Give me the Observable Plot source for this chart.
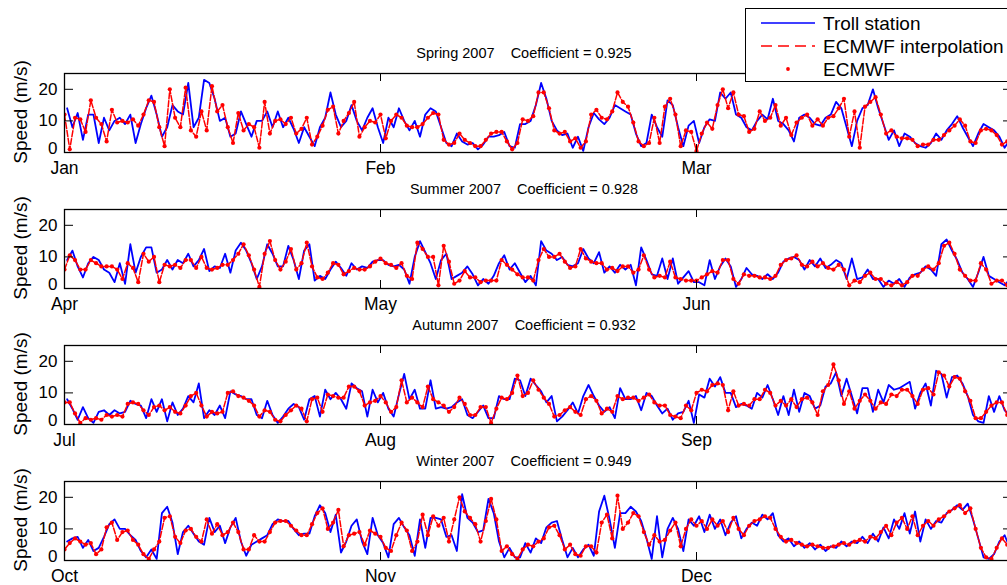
<!DOCTYPE html>
<html><head><meta charset="utf-8">
<script src="https://cdn.jsdelivr.net/npm/d3@7"></script>
<script src="https://cdn.jsdelivr.net/npm/@observablehq/plot@0.6"></script>
<style>
html,body{margin:0;padding:0;width:1007px;height:585px;overflow:hidden;background:#fff;font-family:"Liberation Sans",Arial,Helvetica,sans-serif;}
#root{position:relative;width:1007px;height:585px;overflow:hidden;}
.panel{position:absolute;left:0;width:1007px;}
.title{position:absolute;font-size:14.5px;line-height:18px;white-space:pre;transform:translateX(-50%);color:#000;}
.ylab{position:absolute;font-size:19px;line-height:20px;white-space:nowrap;transform:translate(-50%,-50%) rotate(-90deg);color:#000;}
#legend{position:absolute;left:745px;top:8px;width:275px;height:72px;border:1px solid #000;background:#fff;z-index:10;}
#legend svg{position:absolute;left:0;top:0;}
</style>
</head><body><div id="root"></div>
<script>
// ---- data -----------------------------------------------------------
const seasons = ["Spring 2007","Summer 2007","Autumn 2007","Winter 2007"];
const coefficients = ["0.925","0.928","0.932","0.949"];
const monthNames = [["Jan","Feb","Mar"],["Apr","May","Jun"],["Jul","Aug","Sep"],["Oct","Nov","Dec"]];
const yTicks = [0,10,20];
const legendNames = ["Troll station","ECMWF interpolation","ECMWF"];

// ECMWF values every 12 h (m/s)
const springEcmwf = [12,1,11,10.5,6.5,16.5,11,9,3.5,13.5, 9.5,10,9.5,10.5,8.5,12,16.5,16,8,2,
 20,11,8,20.5,7,5,13,7,21,13, 15,8,3,12.5,7,9,8,1.5,16,6, 10,10.5,9,11,6,7.5,11,2.5,5,8.5,
 13.5,14.5,6,10,12.5,16,5,8,10,9.5, 12,4.5,10,12,11,8.5,8,8,9,11, 12.5,12,4,2.5,3,6,4,3,2,2,
 4,6,6.5,6.5,3.5,1,3,10.5,10,11.5, 19,19,14,7,6,6.5,3.5,4.5,1.5,3.5, 12,13.5,11,10.5,13,19,16,14.5,9.5,3.5,
 2,3,11,3,14.5,17,12,2,7,6.5, 0.5,6,9.5,7.5,15,20,14,19,12,11.5, 6.5,7.5,13,10,11,15,8.5,11,5.5,9.5,
 11,12,8.5,10.5,8.5,11,11.5,14,17,5, 13,1.5,14.5,16,17.5,12,6,7,5,4.5, 4.5,4,2,2.5,2.5,4,4,5.5,7,8.5,
 10.5,8.5,3.5,3,7,7.5,7,5.5,2.5,3.5];
const summerEcmwf = [6,10.5,9,6,6,9,8,7,7,7, 6,3,8,6.5,2,11,8.5,10,2,7.5, 7,7.5,6.5,9,9,6.5,10,6.5,6,6.5,
 7.5,7.5,9,11,14,10.5,6,0.5,11,15, 9,6,8.5,12.5,6,8,14.5,7,3.5,3, 5,8,7.5,4.5,5.5,6.5,6,6,7,8.5,
 9.5,8,7.5,6.5,8,4,3,14.5,12.5,10, 10,1,13.5,8.5,1.5,2.5,5.5,3.5,3.5,2, 2.5,2.5,2.5,9,7.5,6,4.5,3.5,3.5,2.5,
 9,12.5,10,10,11,8.5,6.5,7,12.5,9.5, 8.5,8,8,6,6.5,5.5,7,7,5,6, 10.5,6,3.5,4,3.5,8.5,3.5,3,2.5,2.5,
 2.5,3.5,4.5,5.5,5,9,9,3,1.5,4.5, 4,4,3.5,3.5,3,4,7.5,9,9.5,10.5, 7.5,7,8.5,7,8,6.5,6,7.5,6,1,
 2.5,2,4,5,3,3,1.5,1,2,1, 2,4,4,6,7,6,8,13.5,14.5,11, 6,4,2.5,2.5,8,6,1.5,2.5,2.5,1];
const autumnEcmwf = [7,7,3.5,0.5,2,1.5,2,1.5,3,2.5, 3,2.5,6.5,7,6.5,4.5,3,5.5,6,4.5, 5.5,4,3.5,6,9,10,6,2.5,4,3.5,
 4,10,10.5,9,8.5,7.5,6,2.5,4.5,4, 1.5,1,3,4.5,6,5,1,8,8.5,4, 9.5,9,8.5,8.5,12,12,10.5,6,7,7.5,
 9,7,4,5.5,14,7,8.5,7,5.5,12, 8,7,6,4,5.5,8.5,6.5,3,3,5.5, 5.5,0.5,5,8.5,8,10,15.5,9,10,14,
 11,8.5,6.5,2.5,3,4.5,5.5,4,3,8, 9,7.5,3.5,5,4,9,8,8.5,8.5,7.5, 8.5,9.5,7,6,6,3,2.5,2,6,4.5,
 10,11,10.5,12.5,13,12.5,4.5,10.5,6,6.5, 6,8,8,11,10,6,7.5,6,8,5.5, 8,8.5,7,3,10.5,12.5,19,14,6.5,10.5,
 5,7.5,9.5,7.5,5,7,6.5,9.5,9,11, 11,9,6.5,11,11.5,9.5,16.5,15.5,12,15, 14.5,10.5,7.5,2,2,4,6,7,7,3];
const winterEcmwf = [3.5,5.5,7,6,5,5.5,2,3.5,10.5,12, 6.5,9,9.5,6.5,5,2,0.5,3.5,6,13.5, 14,7.5,5.5,9.5,10,7.5,6,13,8.5,11.5,
 8,9,12,9,3.5,3.5,8,6,6,9, 12,12.5,12.5,11,9.5,8,8,11.5,15,16.5, 10,12,16,4.5,8,8.5,9,5,9.5,8.5,
 7.5,4,3,8,12,9.5,3,6,14.5,8, 14,11,13.5,6,13,20,15.5,13.5,11.5,6, 12.5,19.5,13,3,4.5,2,0.5,3.5,5,4.5,
 6,7,10.5,11,8,3.5,5,2,1.5,4.5, 4.5,2.5,12,14.5,7,20.5,10,12,15,14, 9,5,8,6,6.5,9.5,12,4.5,10,13,
 11,12.5,10,13,11,12.5,9,13.5,10,8, 11,12.5,13,14,13.5,10,7.5,6,6.5,5.5, 5,4.5,5,4.5,4,4,4.5,5,5.5,5,
 6,6.5,6,7.5,7,9,11,8,12,13.5, 10,14,8,11,12.5,11,13,14,15.5,16.5, 17.5,15,16.5,10,4,1,0.5,4,7,5];

// Troll station values, 6 h after each ECMWF value (m/s)
const springTroll = [14,8,12.5,4,12,12,3,11,7,10, 11,9,12,3,9,14,18,12,5,8, 15,13,12,22,8,11,23,22,17,10,
 11,5,6,13,9,5,10,10,13,8, 13,8,11,7.5,3,8,5,2,8,11, 19,12,8,10,15,10,7,11,14,8,
 3,11,8,14,10,7,10,5,12,14, 13,8,3,2,6,3.5,2.5,3,1,2.5, 5,5,5.5,6.5,2,1.5,9,9,10,15,
 22,17,10,7,5.5,6,1.5,5,0.5,8, 12.5,10.5,9,11,15,14,13,12,6,2, 3,12,8,5,16.5,15,8,2,8.5,10,
 3,8,10.5,10,19,17,19,12,11,8, 7,10,12,10.5,17,10,9,7,3.5,11, 12,11,9,8.5,11,12,16,14,8,2,
 10,14,15,20,14,9,4,7,2,6, 5,3,2,1.5,3,6,4,7,9,11.5, 8,5,2,6,9,8,7,5,1.5,4];
const summerTroll = [9,12,7,3.5,8,10,9,6,5,2, 8,1.5,14,5,10,13,13,5,6,9, 6,9,8,11,7,9,12.5,5.5,7,6.5,
 11,5,12,14.5,12,8,3,7,14,11, 7,7,13.5,9,3,12,14,2.5,4,3, 6,8.5,6.5,4,8,6,7,6.5,8.5,9,
 9,7.5,7,7.5,6,1.5,10,15,11.5,8, 3,9,11,3,4,5,7,4.5,1,3, 1.5,4,8,10.5,6,8,5,2,4,1,
 15,12,11,9,10,7.5,7,8,12.5,9.5, 8,11.5,5,7,5,7.5,6,7.5,1,13, 9,4.5,4,9.5,3,9.5,1.5,3.5,5.5,2,
 2,1,9,3,7,9.5,7,0.5,3,6.5, 4.5,4,3,4.5,3,5,8.5,9.5,10,9, 6,9,7,9.5,6.5,7.5,9,8,3,9.5,
 3,3.5,6,3,3,0.5,2.5,1.5,3,0.5, 3.5,4.5,5,7,6,4,14,15.5,12,9, 5,3,0.5,5,10,4,3,2,1,3];
const autumnTroll = [8,5,1.5,5.5,2,0.5,4,4.5,3,4.5, 3.5,4,7.5,6.5,6,2,8,4,8,1, 7,3,5,9,7,13,2,4.5,3,6,
 2,10.5,9.5,9,8,8,3,2,7.5,3, 0.5,2.5,5,6.5,5.5,1.5,8,9,2.5,11, 8,10,8,5,13,11.5,10.5,2.5,11,7,
 10,5,2.5,9.5,16,8,11,5,5,14, 5,5.5,5,5.5,7,8,3,2,4,6, 2,2,9,8,8,14.5,14,9,14.5,12.5,
 10.5,7,9,1,2.5,4.5,7,3.5,9,12.5, 9,6,4,5.5,2,11.5,8,8,9,4.5, 10,9,6,3.5,5,1.5,3.5,4,7.5,0.5,
 9.5,8.5,14.5,12,15,10,10,5.5,6.5,6, 5,10,8.5,12.5,8,3,9,3,11,4, 10,9,5,6,12,13,16.5,9,14.5,9,
 3.5,11.5,11.5,4,11,7,12.5,11,11.5,12.5, 13.5,5,10,13,6,17,16,8.5,15,15.5, 13,9,3,1,0.5,9,4,9,4.5,3];
const winterTroll = [6,7,7.5,4,6.5,3,4,7.5,11.5,13, 10,10,8,6.5,3,1,3.5,0.5,15,17, 12,2,9,11,8.5,6,5,13.5,9,11,
 5.5,10.5,13.5,6,1.5,5,6,7,8,11.5, 13,12.5,12.5,10,8,8.5,8.5,14,17.5,15, 9,14.5,2.5,6,11,13,6,2,13.5,8,
 5.5,1,11.5,13.5,10.5,8,1.5,13,4,13.5, 13.5,13,7.5,8,3,21,13.5,12,9,9.5, 19.5,15,6,1,4,1,1,5.5,2.5,7,
 5.5,10.5,12,12.5,6.5,1,4,1,3.5,5, 1.5,15.5,20.5,13,4,15,15,17,15.5,12.5, 7,0.5,14,1,10,13.5,10,3,13,11,
 14,9,14.5,10,13,8,12,14,7,10, 12,11,14.5,13,15,8,6,7,4.5,6, 4,5.5,3.5,5,3,4.5,4,6,4.5,6,
 5.5,7.5,5.5,8.5,6,10.5,7,13,10,15, 8.5,15.5,6,13,10,12.5,12,15,16,17.5, 16,18,13,7,1,0.5,2,6,8,4];

const ecmwf = [springEcmwf, summerEcmwf, autumnEcmwf, winterEcmwf];
const troll = [springTroll, summerTroll, autumnTroll, winterTroll];
const monthStarts = [0, 30, 60]; // days from season start

// ---- drawing ---------------------------------------------------------
const root = document.getElementById("root");
const BLUE = "#0000ff", RED = "#ff0000";
const PANEL_STEP = 136, PANEL_TOP = 37;
const W = 1007, ML = 64, MR = -5, MT = 36, MB = 25, H = 140;
const frameW = W - ML - MR;

seasons.forEach((season, k) => {
  const redData = ecmwf[k].map((v, i) => ({t: i * 0.5, v}));
  const blueData = troll[k].map((v, i) => ({t: i * 0.5 + 0.25, v}));
  const chart = Plot.plot({
    width: W, height: H,
    marginLeft: ML, marginRight: MR, marginTop: MT, marginBottom: MB,
    x: {domain: [0, 90]},
    y: {domain: [0, 25]},
    style: {fontFamily: '"Liberation Sans", Arial, sans-serif', fontSize: "17px", background: "transparent", overflow: "visible", color: "#000"},
    marks: [
      Plot.line(blueData, {x: "t", y: "v", stroke: BLUE, strokeWidth: 1.8, clip: true}),
      Plot.line(redData, {x: "t", y: "v", stroke: RED, strokeWidth: 1.5, strokeDasharray: "6,2", clip: true}),
      Plot.dot(redData, {x: "t", y: "v", r: 2.1, fill: RED, stroke: null, clip: true}),
      Plot.frame({stroke: "#000", strokeWidth: 1.3}),
      Plot.tickX(monthStarts, {x: d => d, stroke: "#000", insetTop: 79 - 8}),
      Plot.tickX(monthStarts, {x: d => d, stroke: "#000", insetBottom: 79 - 8}),
      Plot.tickY(yTicks, {y: d => d, stroke: "#000", insetRight: frameW - 9}),
      Plot.tickY(yTicks, {y: d => d, stroke: "#000", insetLeft: frameW - 9}),
      Plot.axisX({ticks: monthStarts, tickFormat: d => monthNames[k][monthStarts.indexOf(d)], tickSize: 0, tickPadding: 9, fontSize: 17.5, label: null}),
      Plot.axisY({ticks: yTicks.filter(d => d > 0), tickSize: 0, tickPadding: 7, fontSize: 17, label: null}),
      Plot.axisY({ticks: yTicks.filter(d => d === 0), tickSize: 0, tickPadding: 7, fontSize: 17, dy: -4, label: null})
    ]
  });
  const wrap = document.createElement("div");
  wrap.className = "panel";
  wrap.style.top = (PANEL_TOP + PANEL_STEP * k) + "px";
  wrap.appendChild(chart);
  root.appendChild(wrap);

  const title = document.createElement("div");
  title.className = "title";
  title.style.left = "524px";
  title.style.top = (44 + PANEL_STEP * k) + "px";
  title.textContent = season + "\u00a0\u00a0\u00a0\u00a0Coefficient = " + coefficients[k];
  root.appendChild(title);

  const yl = document.createElement("div");
  yl.className = "ylab";
  yl.style.left = "21px";
  yl.style.top = (112 + PANEL_STEP * k) + "px";
  yl.textContent = "Speed (m/s)";
  root.appendChild(yl);
});

// legend
const legend = document.createElement("div");
legend.id = "legend";
const ns = "http://www.w3.org/2000/svg";
const lsvg = document.createElementNS(ns, "svg");
lsvg.setAttribute("width", 275); lsvg.setAttribute("height", 72);
const rows = [14, 37, 60];
legendNames.forEach((name, j) => {
  const y = rows[j];
  if (j < 2) {
    const ln = document.createElementNS(ns, "line");
    ln.setAttribute("x1", 15); ln.setAttribute("x2", 69);
    ln.setAttribute("y1", y); ln.setAttribute("y2", y);
    ln.setAttribute("stroke", j === 0 ? BLUE : RED);
    ln.setAttribute("stroke-width", 1.3);
    if (j === 1) ln.setAttribute("stroke-dasharray", "11,6");
    lsvg.appendChild(ln);
  } else {
    const c = document.createElementNS(ns, "circle");
    c.setAttribute("cx", 42); c.setAttribute("cy", y); c.setAttribute("r", 1.9);
    c.setAttribute("fill", RED);
    lsvg.appendChild(c);
  }
  const t = document.createElementNS(ns, "text");
  t.setAttribute("x", 77); t.setAttribute("y", y + 6.5);
  t.setAttribute("font-size", "19px");
  t.setAttribute("font-family", '"Liberation Sans", Arial, sans-serif');
  t.textContent = name;
  lsvg.appendChild(t);
});
legend.appendChild(lsvg);
root.appendChild(legend);
</script>
</body></html>
